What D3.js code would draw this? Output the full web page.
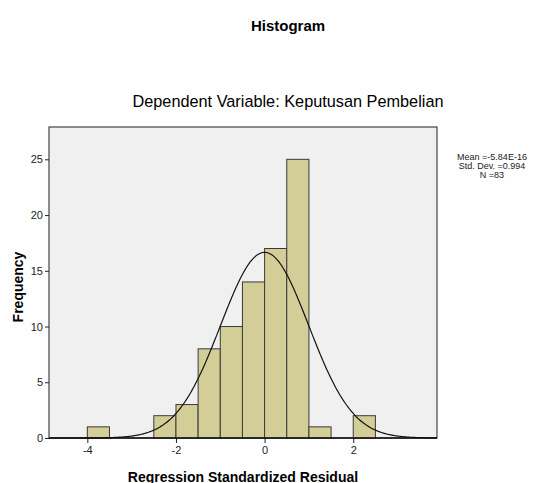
<!DOCTYPE html>
<html>
<head>
<meta charset="utf-8">
<script src="https://d3js.org/d3.v7.min.js"></script>
<style>
body { margin: 0; background: #fff; }
text { font-family: "Liberation Sans", Arial, sans-serif; }
</style>
</head>
<body>
<svg width="546" height="483"></svg>
<script>
// histogram bins (lower edge, upper edge, count)
var binStart = [-4, -2.5, -2, -1.5, -1, -0.5, 0, 0.5, 1, 2];
var binEnd   = [-3.5, -2, -1.5, -1, -0.5, 0, 0.5, 1, 1.5, 2.5];
var counts   = [1, 2, 3, 8, 10, 14, 17, 25, 1, 2];
var xTicks = [-4, -2, 0, 2];
var yTicks = [0, 5, 10, 15, 20, 25];
var mean = -5.84e-16, sd = 0.994, n = 83, binWidth = 0.5;
var statLines = ["Mean =-5.84E-16", "Std. Dev. =0.994", "N =83"];

var svg = d3.select("svg");
var pLeft = 49, pRight = 437, pTop = 127, pBottom = 438;

var x = d3.scaleLinear().domain([-4.865, 3.89]).range([pLeft, pRight]);
var y = d3.scaleLinear().domain([0, 27.9]).range([pBottom, pTop]);

svg.append("text").attr("x", 288).attr("y", 31).attr("text-anchor", "middle")
  .attr("font-size", "15px").attr("font-weight", "bold").text("Histogram");
svg.append("text").attr("x", 288).attr("y", 107).attr("text-anchor", "middle")
  .attr("font-size", "16.3px").text("Dependent Variable: Keputusan Pembelian");

// plot background
svg.append("rect").attr("x", pLeft).attr("y", pTop).attr("width", pRight - pLeft).attr("height", pBottom - pTop)
  .attr("fill", "#f0f0f0").attr("stroke", "#444").attr("stroke-width", 1.2);

var bins = counts.map(function(c, i) { return {x0: binStart[i], x1: binEnd[i], c: c}; });
svg.selectAll(".bar").data(bins).enter().append("rect")
  .attr("class", "bar")
  .attr("x", function(d) { return x(d.x0); })
  .attr("y", function(d) { return y(d.c); })
  .attr("width", function(d) { return x(d.x1) - x(d.x0); })
  .attr("height", function(d) { return y(0) - y(d.c); })
  .attr("fill", "#d3ce98").attr("stroke", "#3a3a3a").attr("stroke-width", 1);

// normal curve
var pts = d3.range(-4.86, 3.89, 0.02).map(function(v) {
  return [v, n * binWidth / (sd * Math.sqrt(2 * Math.PI)) * Math.exp(-0.5 * Math.pow((v - mean) / sd, 2))];
});
svg.append("path").datum(pts)
  .attr("d", d3.line().x(function(d) { return x(d[0]); }).y(function(d) { return y(d[1]); }).curve(d3.curveBasis))
  .attr("fill", "none").attr("stroke", "#111").attr("stroke-width", 1.2);

// axes
var yAxis = svg.append("g").attr("transform", "translate(" + pLeft + ",0)")
  .call(d3.axisLeft(y).tickValues(yTicks).tickSize(4).tickPadding(2));
var xAxis = svg.append("g").attr("transform", "translate(0," + pBottom + ")")
  .call(d3.axisBottom(x).tickValues(xTicks).tickSize(5).tickPadding(3)
    .tickFormat(function(d) { return d < 0 ? "-" + Math.abs(d) : d; }));
[yAxis, xAxis].forEach(function(a) {
  a.select(".domain").remove();
  a.selectAll("line").attr("stroke", "#222");
  a.selectAll("text").attr("font-size", "11px").attr("fill", "#222")
    .style("font-family", "'Liberation Sans', Arial, sans-serif");
});
svg.append("line").attr("x1", pLeft).attr("x2", pRight).attr("y1", pBottom).attr("y2", pBottom)
  .attr("stroke", "#111").attr("stroke-width", 1.5);

svg.append("text").attr("transform", "translate(23,287) rotate(-90)").attr("text-anchor", "middle")
  .attr("font-size", "14px").attr("font-weight", "bold").text("Frequency");
svg.append("text").attr("x", 243).attr("y", 482).attr("text-anchor", "middle")
  .attr("font-size", "14px").attr("font-weight", "bold").text("Regression Standardized Residual");

svg.selectAll(".stat").data(statLines).enter().append("text")
  .attr("class", "stat").attr("x", 492).attr("y", function(d, i) { return 160 + i * 9; })
  .attr("text-anchor", "middle").attr("font-size", "9px").attr("fill", "#222").text(function(d) { return d; });
</script>
</body>
</html>
